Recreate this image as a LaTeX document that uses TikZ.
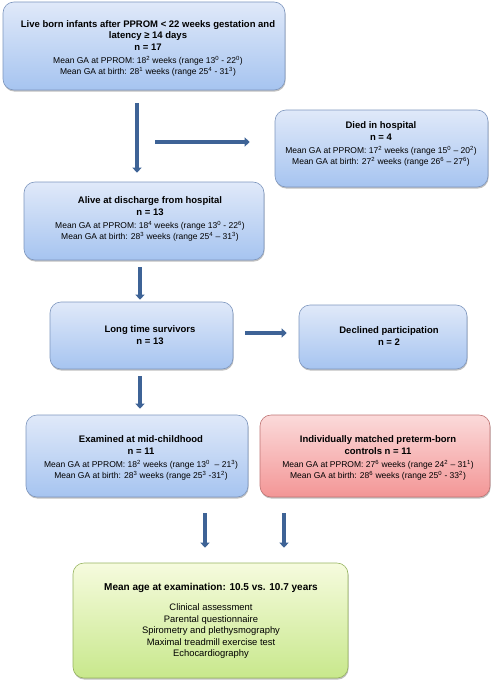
\documentclass[tikz,border=0pt]{standalone}
\usepackage{fontspec}
\setmainfont{Liberation Sans}
\usetikzlibrary{arrows.meta,shadows,positioning}

\definecolor{arrowblue}{RGB}{62,99,150}
\definecolor{blueTop}{RGB}{224,233,249}
\definecolor{blueBot}{RGB}{166,196,240}
\definecolor{blueLine}{RGB}{125,150,190}
\definecolor{redTop}{RGB}{251,218,218}
\definecolor{redBot}{RGB}{243,150,150}
\definecolor{redLine}{RGB}{190,115,115}
\definecolor{greenTop}{RGB}{246,251,222}
\definecolor{greenBot}{RGB}{200,232,140}
\definecolor{greenLine}{RGB}{150,180,95}

\newcommand{\hd}{\fontsize{9.5}{11}\selectfont\bfseries}
\newcommand{\su}[1]{\textsuperscript{#1}}

\begin{document}
\begin{tikzpicture}[x=1pt,y=1pt,
    flow/.style={-{Triangle[width=9pt,length=5pt]}, line width=3.4pt, draw=arrowblue},
    txt/.style={align=center, inner sep=0pt, font=\fontsize{8.5}{10.5}\selectfont}]

    \tikzstyle{every box}=[draw=blueLine, line width=0.6pt, rounded corners=11pt,
      top color=blueTop, bottom color=blueBot,
      drop shadow={shadow xshift=0.6pt, shadow yshift=-1.6pt, opacity=0.35, fill=black!70}]
    \tikzstyle{bluebox}=[every box]
    \tikzstyle{redbox}=[every box, draw=redLine, top color=redTop, bottom color=redBot]
    \tikzstyle{greenbox}=[every box, draw=greenLine, top color=greenTop, bottom color=greenBot]

    \useasboundingbox (0,0) rectangle (492,-685);

    % boxes
    \node[bluebox, minimum width=282pt, minimum height=88pt] (born) at (144,-46) {};
    \node[bluebox, minimum width=213pt, minimum height=77pt] (died) at (381.5,-148.5) {};
    \node[bluebox, minimum width=240pt, minimum height=78pt] (alive) at (144,-221) {};
    \node[bluebox, minimum width=183pt, minimum height=67pt] (long) at (141.5,-335.5) {};
    \node[bluebox, minimum width=168pt, minimum height=64pt] (declined) at (383,-337) {};
    \node[bluebox, minimum width=222pt, minimum height=82pt] (examined) at (137,-456) {};
    \node[redbox, minimum width=230pt, minimum height=82pt] (controls) at (375,-456) {};
    \node[greenbox, minimum width=275pt, minimum height=115pt] (exam) at (210.5,-620.5) {};

    % texts
    \node[txt] (borntxt) at (148,-48) {\hd Live born infants after PPROM < 22 weeks gestation and\\[1pt]
      \hd latency ≥ 14 days\\[1pt] \hd n = 17\\[3pt]
      Mean GA at PPROM: 18\su{2} weeks (range 13\su{0} - 22\su{0})\\
      Mean GA at birth: 28\su{1} weeks (range 25\su{4} - 31\su{3})};
    \node[txt] (diedtxt) at (381,-144) {\hd Died in hospital\\[1pt] \hd n = 4\\[3pt]
      Mean GA at PPROM: 17\su{2} weeks (range 15\su{0} – 20\su{2})\\
      Mean GA at birth: 27\su{2} weeks (range 26\su{6} – 27\su{6})};
    \node[txt] (alivetxt) at (150,-219) {\hd Alive at discharge from hospital\\[1pt] \hd n = 13\\[3pt]
      Mean GA at PPROM: 18\su{4} weeks (range 13\su{0} - 22\su{6})\\
      Mean GA at birth: 28\su{3} weeks (range 25\su{4} – 31\su{3})};
    \node[txt] (longtxt) at (150,-335) {\hd Long time survivors\\[1pt] \hd n = 13};
    \node[txt] (declinedtxt) at (389,-336) {\hd Declined participation\\[1pt] \hd n = 2};
    \node[txt] (examinedtxt) at (141,-458) {\hd Examined at mid-childhood\\[1pt] \hd n = 11\\[3pt]
      Mean GA at PPROM: 18\su{2} weeks (range 13\su{0}\ \ – 21\su{3})\\
      Mean GA at birth: 28\su{3} weeks (range 25\su{3} -31\su{2})};
    \node[txt] (controlstxt) at (378,-458) {\hd Individually matched preterm-born\\[1pt] \hd controls n = 11\\[3pt]
      Mean GA at PPROM: 27\su{6} weeks (range 24\su{2} – 31\su{1})\\
      Mean GA at birth: 28\su{6} weeks (range 25\su{0} - 33\su{2})};
    \node[txt, font=\fontsize{9.4}{11.5}\selectfont] (examtxt) at (211,-621)
      {\fontsize{10}{12}\selectfont\bfseries Mean age at examination: 10.5 vs. 10.7 years\\[9pt]
      Clinical assessment\\ Parental questionnaire\\
      Spirometry and plethysmography\\ Maximal treadmill exercise test\\ Echocardiography};

    % arrows
    \coordinate (split) at (155,-142);
    \coordinate (left) at (205,-513);
    \coordinate (right) at (284,-513);
    \draw[flow] ([xshift=-7pt,yshift=-13pt]born.south) -- ([xshift=-7pt,yshift=9pt]alive.north);
    \draw[flow] (split) -- ([xshift=-25pt,yshift=6.5pt]died.west);
    \draw[flow] ([xshift=-4pt,yshift=-7pt]alive.south) -- ([xshift=-1.5pt,yshift=2pt]long.north);
    \draw[flow] ([xshift=12pt,yshift=2.5pt]long.east) -- ([xshift=-12pt,yshift=4pt]declined.west);
    \draw[flow] ([xshift=-1.5pt,yshift=-7pt]long.south) -- ([xshift=3pt,yshift=6pt]examined.north);
    \draw[flow, shorten >=15pt] (left) -- (left |- exam.north);
    \draw[flow, shorten >=15pt] (right) -- (right |- exam.north);
\end{tikzpicture}
\end{document}
